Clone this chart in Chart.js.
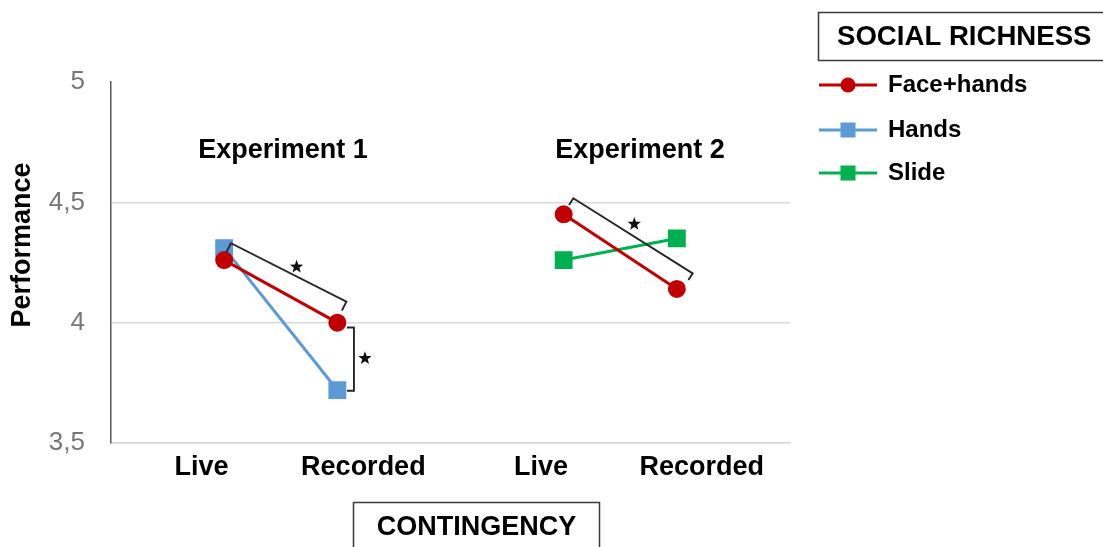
<!DOCTYPE html>
<html>
<head>
<meta charset="utf-8">
<script src="https://cdn.jsdelivr.net/npm/chart.js@4/dist/chart.umd.min.js"></script>
<style>
  html, body { margin: 0; padding: 0; background: #ffffff; }
  #wrap { width: 1103px; height: 547px; }
</style>
</head>
<body>
<div id="wrap"><canvas id="chart" width="1103" height="547"></canvas></div>
<script>
// Conditions shown along the x axis (two experiments, two conditions each)
const conditions = ['Live', 'Recorded', 'Live', 'Recorded'];
const experiments = ['Experiment 1', 'Experiment 2'];

// Mean performance per social-richness condition (null = not tested)
const faceHands = [4.26, 4.00, 4.45, 4.14];
const hands     = [4.31, 3.72, null, null];
const slide     = [null, null, 4.26, 4.35];

// Y axis range and step
const yMin = 3.5, yMax = 5, yStep = 0.5;

const FONT = "'Liberation Sans', Arial, sans-serif";
const COLORS = { faceHands: '#c00000', hands: '#5b9bd5', slide: '#00b050' };

// Each condition sits in its own slot on a 0..6 scale, with an empty slot between experiments
function slotOf(i) { return i + 1 + (i >= 2 ? 1 : 0); }
// Where the condition names are written on that scale
const labelSlots = [0.8, 2.23, 3.8, 5.22];

function toPoints(values) {
  const pts = [];
  values.forEach((v, i) => {
    if (i === 2) pts.push({ x: 3, y: null }); // break the line between experiments
    pts.push({ x: slotOf(i), y: v });
  });
  return pts;
}

// Significance brackets, expressed in slot / performance units
const brackets = [
  { from: [1.06, 4.330], to: [2.08, 4.087], tick: 10, star: [1.64, 4.232] },
  { from: [2.147, 3.98], to: [2.147, 3.717], tick: 7,  star: [2.244, 3.852] },
  { from: [4.085, 4.517], to: [5.14, 4.205], tick: 8,  star: [4.624, 4.410] }
];
const experimentTitlePos = [[1.52, 4.717], [4.675, 4.717]];

function drawStar(ctx, cx, cy, outer, inner) {
  ctx.beginPath();
  for (let k = 0; k < 10; k++) {
    const r = k % 2 === 0 ? outer : inner;
    const a = -Math.PI / 2 + k * Math.PI / 5;
    const px = cx + r * Math.cos(a), py = cy + r * Math.sin(a);
    if (k === 0) ctx.moveTo(px, py); else ctx.lineTo(px, py);
  }
  ctx.closePath();
  ctx.fill();
}

const annotations = {
  id: 'annotations',
  afterDatasetsDraw(chart) {
    const ctx = chart.ctx;
    const xs = chart.scales.x, ys = chart.scales.y;
    const P = (p) => [xs.getPixelForValue(p[0]), ys.getPixelForValue(p[1])];
    ctx.save();

    // experiment titles
    ctx.fillStyle = '#000';
    ctx.font = `bold 27px ${FONT}`;
    ctx.textAlign = 'center';
    ctx.textBaseline = 'middle';
    experiments.forEach((t, i) => {
      const [px, py] = P(experimentTitlePos[i]);
      ctx.fillText(t, px, py);
    });

    // significance brackets and stars
    ctx.strokeStyle = '#262626';
    ctx.lineWidth = 1.9;
    ctx.fillStyle = '#111';
    brackets.forEach(b => {
      const [x1, y1] = P(b.from), [x2, y2] = P(b.to);
      const len = Math.hypot(x2 - x1, y2 - y1);
      const dx = (x2 - x1) / len, dy = (y2 - y1) / len;
      const nx = -dy * b.tick, ny = dx * b.tick;
      ctx.beginPath();
      ctx.moveTo(x1 + nx, y1 + ny);
      ctx.lineTo(x1, y1);
      ctx.lineTo(x2, y2);
      ctx.lineTo(x2 + nx, y2 + ny);
      ctx.stroke();
      const [sx, sy] = P(b.star);
      drawStar(ctx, sx, sy, 7, 2.9);
    });

    // y axis title
    ctx.save();
    ctx.translate(23, 245);
    ctx.rotate(-Math.PI / 2);
    ctx.fillStyle = '#000';
    ctx.font = `bold 27px ${FONT}`;
    ctx.textAlign = 'center';
    ctx.textBaseline = 'middle';
    ctx.fillText('Performance', 0, 0);
    ctx.restore();

    // x axis title in a box
    ctx.strokeStyle = '#3a3a3a';
    ctx.lineWidth = 1.5;
    ctx.strokeRect(353.5, 502.5, 246, 60);
    ctx.fillStyle = '#000';
    ctx.font = `bold 27px ${FONT}`;
    ctx.textAlign = 'center';
    ctx.fillText('CONTINGENCY', 476.5, 528);

    // legend
    ctx.strokeRect(818.5, 12.5, 300, 48);
    ctx.textAlign = 'left';
    ctx.font = `bold 27.6px ${FONT}`;
    ctx.fillText('SOCIAL RICHNESS', 837, 37);
    const rows = [85, 130, 173];
    ctx.font = `bold 24px ${FONT}`;
    chart.data.datasets.forEach((ds, i) => {
      const y = rows[i];
      ctx.strokeStyle = ds.borderColor;
      ctx.lineWidth = 3;
      ctx.beginPath();
      ctx.moveTo(819, y);
      ctx.lineTo(877, y);
      ctx.stroke();
      ctx.fillStyle = ds.pointBackgroundColor;
      if (ds.pointStyle === 'circle') {
        ctx.beginPath();
        ctx.arc(848, y, 7.5, 0, Math.PI * 2);
        ctx.fill();
      } else {
        ctx.fillRect(840.5, y - 7.5, 15, 15);
      }
      ctx.fillStyle = '#000';
      ctx.fillText(ds.label, 888, y);
    });
    ctx.restore();
  }
};

const makeSet = (label, values, color, style, radius) => ({
  label,
  data: toPoints(values),
  borderColor: color,
  backgroundColor: color,
  pointBackgroundColor: color,
  pointBorderColor: color,
  pointStyle: style,
  pointRadius: radius,
  pointHoverRadius: radius,
  borderWidth: 3,
  spanGaps: false,
  tension: 0
});

new Chart(document.getElementById('chart'), {
  type: 'line',
  data: {
    datasets: [
      makeSet('Face+hands', faceHands, COLORS.faceHands, 'circle', 7.5),
      makeSet('Hands', hands, COLORS.hands, 'rect', 10.5),
      makeSet('Slide', slide, COLORS.slide, 'rect', 10.5)
    ]
  },
  options: {
    responsive: false,
    animation: false,
    layout: { padding: { left: 0, top: 82, right: 313, bottom: 0 } },
    plugins: { legend: { display: false }, tooltip: { enabled: false } },
    scales: {
      x: {
        type: 'linear',
        min: 0, max: 6,
        position: 'bottom',
        grid: { display: false, drawTicks: false },
        border: { display: true, color: '#d9d9d9', width: 1.5 },
        afterBuildTicks(scale) {
          scale.ticks = labelSlots.map(v => ({ value: v }));
        },
        ticks: {
          color: '#000',
          padding: 8,
          font: { family: FONT, size: 27, weight: 'bold' },
          maxRotation: 0,
          autoSkip: false,
          callback: (v, i) => conditions[i]
        },
        afterFit(scale) { scale.height = 104; }
      },
      y: {
        min: yMin, max: yMax,
        position: 'left',
        grid: {
          drawTicks: false,
          color: (c) => (c.tick && c.tick.value === yMax) ? 'rgba(0,0,0,0)' : '#d9d9d9',
          lineWidth: 1.5
        },
        border: { display: true, color: '#595959', width: 1.5 },
        ticks: {
          stepSize: yStep,
          padding: 26,
          color: '#767676',
          font: { family: FONT, size: 26 },
          callback: (v) => String(v).replace('.', ',')
        },
        afterFit(scale) { scale.width = 111; }
      }
    }
  },
  plugins: [annotations]
});
</script>
</body>
</html>
